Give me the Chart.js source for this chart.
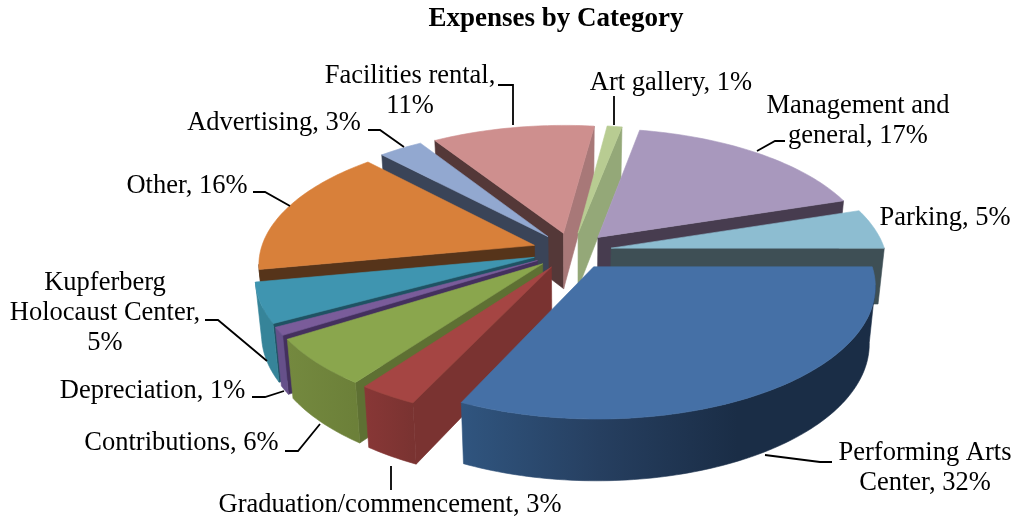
<!DOCTYPE html>
<html><head><meta charset="utf-8">
<style>html,body{margin:0;padding:0;background:#fff}canvas{display:block}</style>
<script src="https://cdn.jsdelivr.net/npm/chart.js@4/dist/chart.umd.js"></script>
</head><body><canvas id="c" width="1016" height="521"></canvas>
<script>
const categories = ["Performing Arts Center","Graduation/commencement","Contributions","Depreciation","Kupferberg Holocaust Center","Other","Advertising","Facilities rental","Art gallery","Management and general","Parking"];
const percents = [32,3,6,1,5,16,3,11,1,17,5];
const titleText = "Expenses by Category";
const topColors = ["#4570a6","#a54543","#8aa64d","#7a5c9a","#3f95b0","#d8803a","#92a8d0","#ce8f8e","#b8cc92","#a898bd","#8dbdd1"];
const wallStart = ["#2a4a70","#7a3331","#5e7033","#44305e","#1f5263","#56341a","#3a4458","#543838","#94a878","#473c4f","#3e4f55"];
const wallEnd = ["#2a4a70","#7a3331","#5e7033","#44305e","#1f5263","#56341a","#3a4458","#a87878","#94a878","#473c4f","#3e4f55"];
const rimStops = [["#30557f","#263f60","#1a2d46","#1a2d46"],["#883736","#7a3331"],["#74893f","#6c8039"],["#66508a","#66508a"],["#368499","#368499"],["#56341a","#56341a"],["#3a4458","#3a4458"],["#543838","#543838"],["#94a878","#94a878"],["#473c4f","#473c4f"],["#3e4f55","#3e4f55"]];
const paintOrder = [7,6,8,9,10,5,4,3,2,1,0];
const labels = [
 {lines:["Performing Arts","Center, 32%"],x:925,y:[453,483],lead:[[765,455],[820,462],[832,462]]},
 {lines:["Graduation/commencement, 3%"],x:390,y:[505],lead:[[391,466],[391,490]]},
 {lines:["Contributions, 6%"],x:181.5,y:[443],lead:[[285,451],[298,451],[320,424]]},
 {lines:["Depreciation, 1%"],x:152.5,y:[391],lead:[[252,397],[265,397],[284,391]]},
 {lines:["Kupferberg","Holocaust Center,","5%"],x:105,y:[283,313,343],lead:[[205,320],[218,320],[267,361]]},
 {lines:["Other, 16%"],x:187,y:[186],lead:[[253,192],[265,192],[290,206]]},
 {lines:["Advertising, 3%"],x:274,y:[123],lead:[[368,130],[380,130],[404,147]]},
 {lines:["Facilities rental,","11%"],x:410,y:[76,106],lead:[[498,85],[513,85],[513,125]]},
 {lines:["Art gallery, 1%"],x:671,y:[83],lead:[[614,125],[614,96]]},
 {lines:["Management and","general, 17%"],x:858,y:[106,136],lead:[[757,151],[775,141],[785,141]]},
 {lines:["Parking, 5%"],x:945,y:[218],lead:[]}
];
const cam = {cx:572,cy:251,rx:274,ry:127,p:0.135,explode:0.145,depth:56,shrink:0.98};
function project(X,Y,low){
  const w=1-cam.p*Y;
  let sx=cam.cx+cam.rx*X/w, sy=cam.cy+cam.ry*Y/w;
  if(low){sx=cam.cx+(sx-cam.cx)*cam.shrink; sy+=cam.depth/Math.pow(w,0.6);}
  return [sx,sy];
}
function poly(ctx,pts,fill){
  ctx.beginPath();pts.forEach((p,i)=>i?ctx.lineTo(p[0],p[1]):ctx.moveTo(p[0],p[1]));ctx.closePath();
  ctx.fillStyle=fill;ctx.strokeStyle=fill;ctx.lineWidth=0.6;ctx.fill();ctx.stroke();
}
const pie3d = {
  id:'pie3d',
  beforeDatasetDraw(chart,args){
    const ctx=chart.ctx, arcs=chart.getDatasetMeta(0).data;
    ctx.save();
    paintOrder.forEach(i=>{
      const a=arcs[i], s=a.startAngle, e=a.endAngle, mid=(s+e)/2;
      const ox=cam.explode*Math.cos(mid), oy=cam.explode*Math.sin(mid);
      const n=Math.max(2,Math.ceil((e-s)/0.02));
      const unit=[];for(let k=0;k<=n;k++){const t=s+(e-s)*k/n;unit.push([ox+Math.cos(t),oy+Math.sin(t)]);}
      const top=unit.map(u=>project(u[0],u[1],false)), low=unit.map(u=>project(u[0],u[1],true));
      const A=project(ox,oy,false), AL=project(ox,oy,true);
      const C=project(ox+0.6*Math.cos(mid),oy+0.6*Math.sin(mid),false);
      const wall=(rim,rimL,col)=>{
        const ex=rim[0]-A[0], ey=rim[1]-A[1];
        const side=(vx,vy)=>ex*vy-ey*vx;
        if(side(C[0]-A[0],C[1]-A[1])*side(0,1)<0) poly(ctx,[A,rim,rimL,AL],col);
      };
      wall(top[0],low[0],wallStart[i]);
      wall(top[n],low[n],wallEnd[i]);
      const vis=[];for(let k=0;k<n;k++){ if(top[k+1][0]<top[k][0]) vis.push(k); }
      if(vis.length){
        const k0=vis[0],k1=vis[vis.length-1]+1;
        const up=top.slice(k0,k1+1), dn=low.slice(k0,k1+1).reverse();
        const x0=Math.min(...up.map(p=>p[0])), x1=Math.max(...up.map(p=>p[0]));
        const g=ctx.createLinearGradient(x0,0,x1+0.01,0);
        rimStops[i].forEach((c,j,l)=>g.addColorStop(j/(l.length-1),c));
        poly(ctx,up.concat(dn),g);
      }
      poly(ctx,[A].concat(top),a.options.backgroundColor);
    });
    ctx.restore();
    return false;
  },
  afterDraw(chart){
    const ctx=chart.ctx;
    ctx.save();
    ctx.font='26.5px "Liberation Serif"';ctx.textAlign='center';ctx.textBaseline='middle';ctx.fillStyle='#000';
    labels.forEach(l=>{
      l.lines.forEach((t,j)=>ctx.fillText(t,l.x,l.y[j]));
      if(l.lead.length){ctx.beginPath();l.lead.forEach((p,j)=>j?ctx.lineTo(p[0],p[1]):ctx.moveTo(p[0],p[1]));
      ctx.strokeStyle='#000';ctx.lineWidth=1.8;ctx.stroke();}
    });
    ctx.restore();
  }
};
new Chart(document.getElementById('c'),{
  type:'pie',
  data:{labels:categories,datasets:[{data:percents,backgroundColor:topColors,borderWidth:0}]},
  options:{
    responsive:false,animation:false,rotation:90,
    layout:{padding:{left:96,top:3}},
    plugins:{legend:{display:false},tooltip:{enabled:false},
      title:{display:true,text:titleText,fullSize:false,color:'#000',font:{family:'"Liberation Serif"',size:27,weight:'bold'},padding:{top:0,bottom:0}}}
  },
  plugins:[pie3d]
});
</script></body></html>
